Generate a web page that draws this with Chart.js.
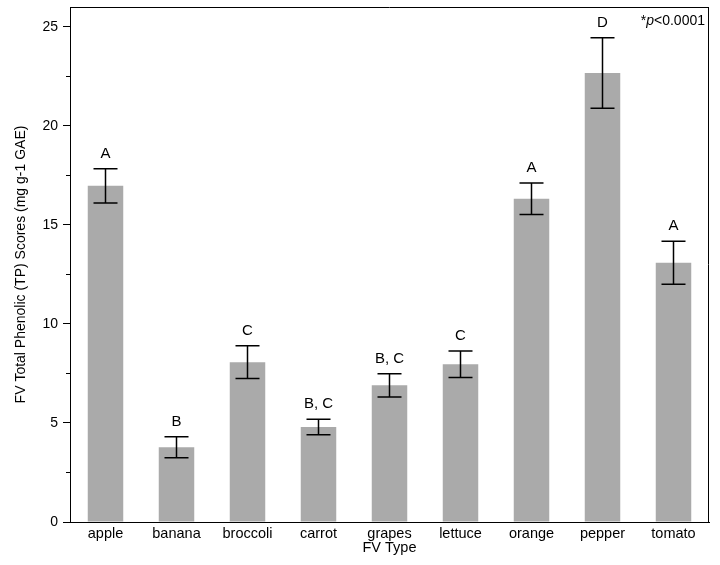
<!DOCTYPE html>
<html>
<head>
<meta charset="utf-8">
<script src="https://cdn.jsdelivr.net/npm/chart.js@4"></script>
<style>
  html, body { margin: 0; padding: 0; background: #ffffff; }
  #wrap { width: 720px; height: 565px; position: relative; }
</style>
</head>
<body>
<div id="wrap"><canvas id="c" width="720" height="565"></canvas></div>
<script>
const categories = ["apple", "banana", "broccoli", "carrot", "grapes", "lettuce", "orange", "pepper", "tomato"];
const meanTP = [16.97, 3.77, 8.07, 4.80, 6.90, 7.96, 16.32, 22.67, 13.09];
const errTP = [0.86, 0.53, 0.83, 0.39, 0.59, 0.67, 0.80, 1.78, 1.09];
const groupLetters = ["A", "B", "C", "B, C", "B, C", "C", "A", "D", "A"];
const yTickValues = [0, 5, 10, 15, 20, 25];
const yMinorTickValues = [2.5, 7.5, 12.5, 17.5, 22.5];
const yAxisTitle = "FV Total Phenolic (TP) Scores (mg g-1 GAE)";
const xAxisTitle = "FV Type";
const pNote = ["*", "p", "<0.0001"];

const FONT = '"Liberation Sans", Arial, Helvetica, sans-serif';

const extras = {
  id: 'extras',
  afterDatasetsDraw(chart) {
    const ctx = chart.ctx;
    const y = chart.scales.y;
    const area = chart.chartArea;
    ctx.save();
    ctx.strokeStyle = '#000';
    ctx.lineWidth = 1.5;
    ctx.fillStyle = '#000';
    ctx.font = '15px ' + FONT;
    ctx.textAlign = 'center';
    ctx.textBaseline = 'alphabetic';
    const meta = chart.getDatasetMeta(0);
    meanTP.forEach((m, i) => {
      const cx = meta.data[i].x;
      const yt = y.getPixelForValue(m + errTP[i]);
      const yb = y.getPixelForValue(m - errTP[i]);
      const hw = 12;
      ctx.beginPath();
      ctx.moveTo(cx, yt); ctx.lineTo(cx, yb);
      ctx.moveTo(cx - hw, yt); ctx.lineTo(cx + hw, yt);
      ctx.moveTo(cx - hw, yb); ctx.lineTo(cx + hw, yb);
      ctx.stroke();
      ctx.fillText(groupLetters[i], cx, yt - 11);
    });
    ctx.lineWidth = 1;
    ctx.beginPath();
    yMinorTickValues.forEach(v => {
      const py = Math.round(y.getPixelForValue(v)) + 0.5;
      ctx.moveTo(area.left - 4, py); ctx.lineTo(area.left, py);
    });
    ctx.moveTo(area.left, Math.round(area.top) + 0.5);
    ctx.lineTo(area.right, Math.round(area.top) + 0.5);
    ctx.moveTo(Math.round(area.right) - 0.5, area.top);
    ctx.lineTo(Math.round(area.right) - 0.5, area.bottom);
    ctx.stroke();
    ctx.textAlign = 'left';
    const normal = '14px ' + FONT, italic = 'italic 14px ' + FONT;
    ctx.font = normal; const w0 = ctx.measureText(pNote[0]).width;
    ctx.font = italic; const w1 = ctx.measureText(pNote[1]).width;
    ctx.font = normal; const w2 = ctx.measureText(pNote[2]).width;
    let tx = area.right - 4 - (w0 + w1 + w2);
    const ty = area.top + 18;
    ctx.font = normal; ctx.fillText(pNote[0], tx, ty); tx += w0;
    ctx.font = italic; ctx.fillText(pNote[1], tx, ty); tx += w1;
    ctx.font = normal; ctx.fillText(pNote[2], tx, ty);
    ctx.restore();
  }
};

new Chart(document.getElementById('c'), {
  type: 'bar',
  data: {
    labels: categories,
    datasets: [{
      data: meanTP,
      backgroundColor: '#aaaaaa',
      borderWidth: 0,
      barPercentage: 0.5,
      categoryPercentage: 1.0
    }]
  },
  options: {
    responsive: false,
    animation: false,
    layout: { padding: { top: 7, right: 11, left: 0, bottom: 0 } },
    plugins: { legend: { display: false }, tooltip: { enabled: false }, title: { display: false } },
    scales: {
      x: {
        grid: { display: true, drawOnChartArea: false, drawTicks: false, color: '#000' },
        border: { display: true, color: '#000', width: 1 },
        ticks: { color: '#000', font: { family: FONT, size: 14.5 }, padding: 3, maxRotation: 0, autoSkip: false },
        title: { display: true, text: xAxisTitle, color: '#000', font: { family: FONT, size: 14.5 }, padding: { top: 0, bottom: 8 } },
        afterFit(s) { s.height = 43; s.paddingLeft = 0; s.paddingRight = 0; }
      },
      y: {
        min: 0, max: 26,
        grid: { display: true, drawOnChartArea: false, drawTicks: true, tickLength: 7, color: '#000' },
        border: { display: true, color: '#000', width: 1 },
        ticks: { color: '#000', font: { family: FONT, size: 14 }, padding: 5 },
        afterBuildTicks(s) { s.ticks = yTickValues.map(v => ({ value: v })); },
        title: { display: true, text: yAxisTitle, color: '#000', font: { family: FONT, size: 14 }, padding: { top: 13, bottom: 0 } },
        afterFit(s) { s.width = 70; s.paddingTop = 0; s.paddingBottom = 0; }
      }
    }
  },
  plugins: [extras]
});
</script>
</body>
</html>
